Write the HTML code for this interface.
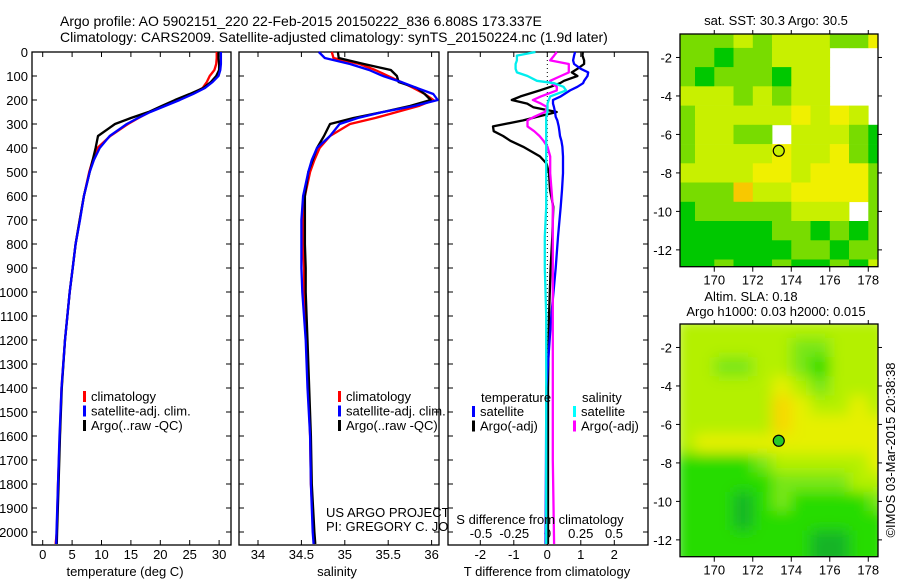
<!DOCTYPE html>
<html><head><meta charset="utf-8">
<style>
html,body{margin:0;padding:0;background:#fff;}
svg{display:block;font-family:"Liberation Sans",sans-serif;}
text{font-size:13px;fill:#000;}
</style></head>
<body>
<svg id="fig" width="900" height="580" viewBox="0 0 900 580" xmlns="http://www.w3.org/2000/svg">
<defs><filter id="smooth" x="0" y="0" width="1" height="1"><feGaussianBlur stdDeviation="7" edgeMode="duplicate"/></filter></defs>
<text x="60" y="26" style="font-size:14px">Argo profile: AO 5902151_220 22-Feb-2015 20150222_836 6.808S 173.337E</text>
<text x="60" y="42" style="font-size:14px">Climatology: CARS2009. Satellite-adjusted climatology: synTS_20150224.nc (1.9d later)</text>
<g id="layer"></g>
</svg>
<script>
// ---------- data ----------
const depths = [0,25,50,75,100,125,150,175,200,225,250,275,300,350,400,450,500,600,700,800,900,1000,1200,1400,1600,1800,2000,2050];
const tempClim = [29.6,29.6,29.5,29.2,28.4,27.9,27.2,25.4,23.0,20.6,18.2,16.3,14.5,11.5,9.3,8.5,7.9,7.0,6.3,5.6,5.1,4.6,3.8,3.2,2.9,2.6,2.4,2.2];
const tempSat = [30.3,30.3,30.3,30.2,29.9,28.9,27.6,25.6,23.3,20.8,18.3,16.2,14.3,11.4,9.7,8.7,8.0,7.0,6.35,5.6,5.1,4.6,3.8,3.2,2.85,2.6,2.35,2.3];
const tempArgo = [29.9,29.9,30.0,30.0,29.5,28.6,27.3,25.0,22.5,20.2,18.0,15.0,12.3,9.4,9.0,8.5,8.0,7.0,6.3,5.6,5.1,4.6,3.8,3.25,2.95,2.7,2.45,2.4];
const salClim = [34.85,34.87,35.17,35.35,35.50,35.65,35.79,35.92,36.02,35.85,35.60,35.35,35.06,34.83,34.71,34.65,34.60,34.54,34.52,34.52,34.53,34.53,34.56,34.58,34.60,34.61,34.64,34.65];
const salSat = [34.70,34.77,35.06,35.28,35.44,35.65,35.83,36.02,36.07,35.80,35.44,35.15,34.94,34.83,34.68,34.62,34.58,34.52,34.50,34.50,34.50,34.51,34.55,34.57,34.60,34.61,34.63,34.64];
const salArgo = [34.92,34.93,35.22,35.53,35.60,35.62,35.83,35.92,35.99,35.75,35.44,35.10,34.83,34.76,34.68,34.63,34.58,34.54,34.54,34.54,34.55,34.55,34.57,34.59,34.61,34.62,34.65,34.66];

const diffDepths = [0,15,35,50,70,85,100,120,130,145,160,185,200,215,230,250,270,285,310,330,350,370,395,435,465,505,575,645,770,900,1100,1400,1700,2050];
const dTsat = [0.83,0.80,0.77,0.80,1.0,1.22,1.2,1.1,1.07,0.9,0.68,0.4,0.17,0.17,0.2,0.23,0.25,0.3,0.34,0.36,0.38,0.42,0.45,0.47,0.47,0.47,0.44,0.40,0.32,0.25,0.12,-0.03,-0.04,-0.05];
const dTargo = [1.06,1.05,1.1,1.1,0.9,0.73,0.9,0.5,0.38,0.1,-0.22,-0.8,-1.06,-0.6,-0.42,0.28,-0.3,-0.72,-1.62,-1.6,-1.32,-1.1,-0.72,-0.22,-0.02,0.05,0.08,0.18,0.15,0.1,0.05,0.02,0.02,0.02];
const dSsat = [-0.09,-0.23,-0.23,-0.24,-0.24,-0.23,-0.15,-0.08,0.05,0.12,0.14,0.02,0.01,0.0,0.0,0.0,-0.01,-0.01,-0.01,-0.01,-0.01,-0.01,-0.01,-0.01,-0.01,-0.01,-0.01,-0.01,-0.02,-0.02,-0.01,-0.01,-0.01,-0.01];
const dSargo = [0.07,0.05,0.02,0.16,0.16,0.16,0.1,0.02,0.03,0.07,0.07,-0.05,-0.11,-0.05,0.0,-0.02,-0.1,-0.15,-0.15,-0.1,-0.06,-0.03,0.0,0.02,0.02,0.02,0.03,0.04,0.04,0.04,0.04,0.04,0.04,0.05];

const depthTicks = [0,100,200,300,400,500,600,700,800,900,1000,1100,1200,1300,1400,1500,1600,1700,1800,1900,2000];
const tempTicks = [0,5,10,15,20,25,30];
const salTicks = [34,34.5,35,35.5,36];
const salTickLabels = ["34","34.5","35","35.5","36"];
const dTTicks = [-2,-1,0,1,2];
const dSTicks = [-0.5,-0.25,0,0.25,0.5];
const dSTickLabels = ["-0.5","-0.25","0","0.25","0.5"];

const mapLons = [168.5,169.5,170.5,171.5,172.5,173.5,174.5,175.5,176.5,177.5,178.5];
const mapLats = [-1,-2,-3,-4,-5,-6,-7,-8,-9,-10,-11,-12,-13];
const lonTicks = [170,172,174,176,178];
const latTicks = [-2,-4,-6,-8,-10,-12];
const sstGrid = [
 [1,1,1,2,1,2,2,2,1,1,3],
 [1,1,0,1,1,2,2,2,-1,-1,-1],
 [1,0,1,1,1,0,2,2,-1,-1,-1],
 [2,2,2,1,2,1,2,2,-1,-1,-1],
 [1,2,2,2,2,2,3,2,3,2,-1],
 [1,2,2,1,1,-1,2,2,2,1,0],
 [1,2,2,2,2,3,2,2,3,1,0],
 [2,2,2,2,3,3,2,3,3,3,1],
 [1,1,1,4,2,2,3,3,3,3,1],
 [0,1,1,1,1,1,2,2,2,-1,1],
 [0,0,0,0,0,1,1,0,1,0,1],
 [0,0,0,0,0,0,1,1,0,1,1],
 [0,0,1,0,0,1,0,0,1,0,2]];
const slaGrid = [
 [3,3,3,3,3,3,3,3,3,3,3],
 [3,3,3,3,3,3,2,2,3,3,3],
 [3,3,2,2,3,3,2,1,3,3,3],
 [3,3,3,3,3,4,3,2,3,3,3],
 [3,3,3,3,3,5,4,3,3,4,3],
 [3,3,3,3,3,5,4,4,4,4,4],
 [3,4,4,4,4,4,4,4,4,4,4],
 [1,1,1,1,2,3,3,3,3,3,4],
 [1,1,1,1,1,2,2,2,2,3,3],
 [1,1,1,0,1,2,1,1,1,1,2],
 [1,1,1,0,1,1,1,1,1,1,1],
 [1,1,1,1,1,1,1,0,0,1,1],
 [1,1,1,1,1,1,1,0,0,1,1]];
const floatLon = 173.35, floatLat = -6.85;

// ---------- helpers ----------
const NS="http://www.w3.org/2000/svg";
const layer=document.getElementById('layer');
function mk(tag,attrs,parent){const e=document.createElementNS(NS,tag);for(const k in attrs)e.setAttribute(k,attrs[k]);(parent||layer).appendChild(e);return e;}
function txt(x,y,s,anchor,parent,size){const t=mk('text',{x:x,y:y,'text-anchor':anchor||'start'},parent);if(size)t.style.fontSize=size+'px';t.textContent=s;return t;}

const PT=52, PB=545;
const yD = d => PT + d*0.24;

function panel(x0,x1,name){
  const g=mk('g',{});
  
  
  mk('rect',{x:x0,y:PT,width:x1-x0,height:PB-PT,fill:'#fff',stroke:'#000','stroke-width':1.3},g);
  depthTicks.forEach(d=>{const y=yD(d);mk('line',{x1:x0,x2:x0+5,y1:y,y2:y,stroke:'#000'},g);mk('line',{x1:x1-5,x2:x1,y1:y,y2:y,stroke:'#000'},g);});
  return g;
}
function line(g,xs,ds,xf,color,name,w){
  const p=xs.map((v,i)=>xf(v).toFixed(1)+','+yD(ds[i]).toFixed(1)).join(' ');
  const e=mk('polyline',{points:p,fill:'none',stroke:color,'stroke-width':w||2.3,'stroke-linejoin':'round'},g);
  
  
}
function legend(g,x,y,items){
  items.forEach((it,i)=>{
    const gg=mk('g',{},g);
    
    
    mk('rect',{x:x,y:y+i*14.5-10,width:3,height:11,fill:it[0]},gg);
    txt(x+8,y+i*14.5,it[1],'start',gg);
  });
}

// ---------- panel 1: temperature ----------
const xT = v => 42.7 + v*5.88;
const g1=panel(32,231,'temperature-panel');
depthTicks.forEach(d=>{txt(28,yD(d)+5,String(d),'end',g1);});
tempTicks.forEach(v=>{mk('line',{x1:xT(v),x2:xT(v),y1:PB,y2:PB-5,stroke:'#000'},g1);mk('line',{x1:xT(v),x2:xT(v),y1:PT,y2:PT+5,stroke:'#000'},g1);txt(xT(v),559,String(v),'middle',g1);});
line(g1,tempClim,depths,xT,'#f00','temp-climatology-line');
line(g1,tempArgo,depths,xT,'#000','temp-argo-line');
line(g1,tempSat,depths,xT,'#00f','temp-satellite-line');
legend(g1,83,401,[['#f00','climatology','climatology'],['#00f','satellite-adj. clim.','satellite'],['#000','Argo(..raw -QC)','argo']]);
txt(125,576,'temperature (deg C)','middle',g1);

// ---------- panel 2: salinity ----------
const xS = v => 258 + (v-34)*86.8;
const g2=panel(239,439,'salinity-panel');
salTicks.forEach((v,i)=>{mk('line',{x1:xS(v),x2:xS(v),y1:PB,y2:PB-5,stroke:'#000'},g2);mk('line',{x1:xS(v),x2:xS(v),y1:PT,y2:PT+5,stroke:'#000'},g2);txt(xS(v),559,salTickLabels[i],'middle',g2);});
line(g2,salClim,depths,xS,'#f00','sal-climatology-line');
line(g2,salArgo,depths,xS,'#000','sal-argo-line');
line(g2,salSat,depths,xS,'#00f','sal-satellite-line');
legend(g2,338,401,[['#f00','climatology','climatology'],['#00f','satellite-adj. clim.','satellite'],['#000','Argo(..raw -QC)','argo']]);
txt(337,576,'salinity','middle',g2);
txt(326,517,'US ARGO PROJECT','start',g2);
txt(326,531,'PI: GREGORY C. JOHNSON','start',g2);

// ---------- panel 3: differences ----------
const xdT = v => 547.3 + v*33.5;
const xdS = v => 547.5 + v*133;
const g3=panel(448,648,'difference-panel');
mk('line',{x1:xdT(0),x2:xdT(0),y1:PT,y2:PB,stroke:'#000','stroke-dasharray':'1,3'},g3);
dTTicks.forEach(v=>{mk('line',{x1:xdT(v),x2:xdT(v),y1:PB,y2:PB-5,stroke:'#000'},g3);mk('line',{x1:xdT(v),x2:xdT(v),y1:PT,y2:PT+5,stroke:'#000'},g3);txt(xdT(v),559,String(v),'middle',g3);});
dSTicks.forEach((v,i)=>{txt(xdS(v),538,dSTickLabels[i],'middle',g3);});
line(g3,dTargo,diffDepths,xdT,'#000','dT-argo-line');
line(g3,dTsat,diffDepths,xdT,'#00f','dT-satellite-line');
line(g3,dSargo,diffDepths,xdS,'#f0f','dS-argo-line');
line(g3,dSsat,diffDepths,xdS,'#0ee','dS-satellite-line');
txt(481,402,'temperature','start',g3);
legend(g3,472,416,[['#00f','satellite','t-satellite'],['#000','Argo(-adj)','t-argo']]);
txt(582,402,'salinity','start',g3);
legend(g3,573,416,[['#0ff','satellite','s-satellite'],['#f0f','Argo(-adj)','s-argo']]);
txt(540,524,'S difference from climatology','middle',g3);
txt(547,576,'T difference from climatology','middle',g3);

// ---------- maps ----------
const MX0=680, MX1=878;
const xL = v => MX0 + (v-168.22)*19.25;
const sstCols=['#00c800','#78dc00','#c8f000','#f0f000','#f8c800'];
const slaCols=['#14b428','#28dc00','#78e614','#b4f000','#e6f000','#f8d800'];
function map(top,bottom,grid,cols,name,mfill,smooth){
  const yL = v => top + (-0.78 - v)*19.24;
  const g=mk('g',{});
  
  
  const cp=mk('clipPath',{id:'cp'+name},g);
  mk('rect',{x:MX0,y:top,width:MX1-MX0,height:bottom-top},cp);
  const outer=mk('g',{'clip-path':'url(#cp'+name+')'},g);
  const cg=mk('g',smooth?{filter:'url(#smooth)'}:{},outer);
  grid.forEach((row,r)=>row.forEach((v,c)=>{
    if(v<0)return;
    const x=xL(mapLons[c]-0.5), y=yL(mapLats[r]+0.5);
    const cell=mk('rect',{x:x.toFixed(1),y:y.toFixed(1),width:19.6,height:19.6,fill:cols[v]},cg);
    
    
  }));
  mk('rect',{x:MX0,y:top,width:MX1-MX0,height:bottom-top,fill:'none',stroke:'#000','stroke-width':1.3},g);
  lonTicks.forEach(v=>{mk('line',{x1:xL(v),x2:xL(v),y1:bottom,y2:bottom+5,stroke:'#000'},g);mk('line',{x1:xL(v),x2:xL(v),y1:top,y2:top-4,stroke:'#000'},g);txt(xL(v),bottom+18,String(v),'middle',g);});
  latTicks.forEach(v=>{mk('line',{x1:MX0,x2:MX0-4,y1:yL(v),y2:yL(v),stroke:'#000'},g);mk('line',{x1:MX1,x2:MX1+4,y1:yL(v),y2:yL(v),stroke:'#000'},g);txt(MX0-8,yL(v)+5,String(v),'end',g);});
  const m=mk('circle',{cx:xL(floatLon),cy:yL(floatLat),r:5.5,fill:mfill,stroke:'#000','stroke-width':1.2},g);
  
  
}
map(34,266.7,sstGrid,sstCols,'sst-map','#c8f000',false);
map(324,556.7,slaGrid,slaCols,'sla-map','#28c828',true);
txt(776,25,'sat. SST: 30.3 Argo: 30.5','middle');
txt(751,301,'Altim. SLA: 0.18','middle');
txt(776,316,'Argo h1000: 0.03 h2000: 0.015','middle');
const cr=txt(0,0,'\u00a9IMOS 03-Mar-2015 20:38:38','middle');
cr.setAttribute('transform','translate(895,450) rotate(-90)');

</script>
</body></html>
